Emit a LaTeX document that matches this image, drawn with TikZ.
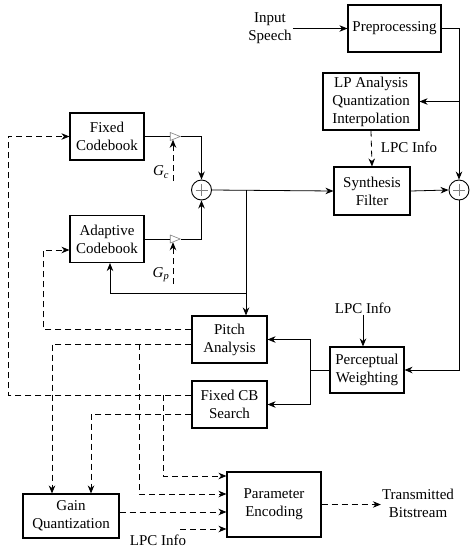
\documentclass[tikz,border=0pt]{standalone}
\usepackage{fontspec}
\setmainfont{Liberation Serif}
\usetikzlibrary{arrows.meta,shapes.geometric}
\begin{document}
\begin{tikzpicture}[x=1pt,y=-1pt,
  font=\fontsize{15}{18}\selectfont,
  blk/.style={draw,line width=1.1pt,align=center,inner sep=0pt},
  ln/.style={line width=0.8pt},
  arr/.style={ln,-{Stealth[length=8pt,width=6.5pt]}},
  darr/.style={arr,dash pattern=on 6pt off 4pt},
  dln/.style={ln,dash pattern=on 6pt off 4pt},
  lbl/.style={align=center,inner sep=1pt},
  summ/.style={circle,draw,line width=0.9pt,minimum size=20pt,inner sep=0pt},
  gain/.style={isosceles triangle,draw=gray,fill=white,line width=0.6pt,minimum height=10pt,minimum width=8pt,inner sep=0pt,isosceles triangle stretches}
]
\useasboundingbox (0,0) rectangle (473,550);

% blocks
\node[blk,minimum width=93pt,minimum height=47pt] (pre) at (394.5,28.5) {Preprocessing};
\node[blk,minimum width=96pt,minimum height=57pt] (lpa) at (371,101.5) {LP Analysis\\Quantization\\Interpolation};
\node[blk,minimum width=76pt,minimum height=48pt] (syn) at (372,191) {Synthesis\\Filter};
\node[blk,minimum width=74pt,minimum height=47pt] (fcb) at (107,136.5) {Fixed\\Codebook};
\node[blk,minimum width=74pt,minimum height=47pt] (acb) at (107,239) {Adaptive\\Codebook};
\node[blk,minimum width=75pt,minimum height=47pt] (pitch) at (229.5,339.5) {Pitch\\Analysis};
\node[blk,minimum width=75pt,minimum height=47pt] (fcbs) at (229.5,404.5) {Fixed CB\\Search};
\node[blk,minimum width=74pt,minimum height=46pt] (pw) at (367,370) {Perceptual\\Weighting};
\node[blk,minimum width=96pt,minimum height=44pt] (gq) at (71,516) {Gain\\Quantization};
\node[blk,minimum width=94pt,minimum height=65pt] (pe) at (274,504.5) {Parameter\\Encoding};

% summing junctions
\node[summ] (s1) at (201.5,190) {};
\node[summ] (s2) at (459,190) {};
\foreach \s in {s1,s2}{
  \draw[gray,line width=0.5pt] (\s.center) +(-6,0) -- +(6,0);
  \draw[gray,line width=0.5pt] (\s.center) +(0,-6) -- +(0,6);
}

% gains
\node[gain] (t1) at (173,136.5) {};
\node[gain] (t2) at (173,239) {};

% labels
\node[lbl] (inp) at (270,28) {Input\\Speech};
\node[lbl] (lpc1) at (409,147) {LPC Info};
\node[lbl] (lpc2) at (363,308) {LPC Info};
\node[lbl] (lpc3) at (158,540) {LPC Info};
\node[lbl] (tb) at (418,503) {Transmitted\\Bitstream};
\node[lbl] (gc) at (161,172) {\textit{G\textsubscript{c}}};
\node[lbl] (gp) at (161,275) {\textit{G\textsubscript{p}}};

% coordinates
\coordinate (b1) at (246,190);
\coordinate (b2) at (246,293);
\coordinate (j) at (310,370);
\coordinate (gcs) at (173,181);
\coordinate (gps) at (173,284);
\coordinate (lpcs) at (180,529);

% solid connectors
\draw[arr] (inp.east |- pre.west) -- (pre.west);
\draw[arr] (pre.east) -| (s2.north);
\draw[arr] (s2.north |- lpa.east) -- (lpa.east);
\draw[arr] (syn.east) -- (s2.west);
\draw[arr] (s1.east) -- (syn.west);
\draw[arr] (b1) -- (b1 |- pitch.north);
\draw[arr] (b2) -- (110,293) -- (110,0 |- acb.south);
\draw[ln] (fcb.east) -- (t1.west);
\draw[arr] (t1.east) -| (s1.north);
\draw[ln] (acb.east) -- (t2.west);
\draw[arr] (t2.east) -| (s1.south);
\draw[arr] (lpc2.south) -- (lpc2.south |- pw.north);
\draw[arr] (s2.south) |- (pw.east);
\draw[ln] (pw.west) -- (j);
\draw[arr] (j) |- (pitch.east);
\draw[arr] (j) |- (fcbs.east);

% dashed connectors
\draw[darr] (lpa.south) -- (syn.north);
\draw[darr] (gcs) -- (t1.south);
\draw[darr] (gps) -- (t2.south);
\draw[darr] (pitch.west |- 0,329) -- (43,329) -- (43,250) -- (acb.west |- 0,250);
\draw[darr] (fcbs.west |- 0,395) -- (8,395) -- (8,136.5) -- (fcb.west);
\draw[darr] (pitch.west |- 0,344) -- (52,344) -- (gq.north -| 52,0);
\draw[darr] (139,344) -- (139,494) -- (pe.west |- 0,494);
\draw[darr] (fcbs.west |- 0,414) -- (91,414) -- (gq.north -| 91,0);
\draw[darr] (163,395) -- (163,476) -- (pe.west |- 0,476);
\draw[darr] (gq.east |- 0,512) -- (pe.west |- 0,512);
\draw[darr] (lpcs) -- (pe.west |- lpcs);
\draw[darr] (pe.east) -- (tb.west |- pe.east);
\end{tikzpicture}
\end{document}
